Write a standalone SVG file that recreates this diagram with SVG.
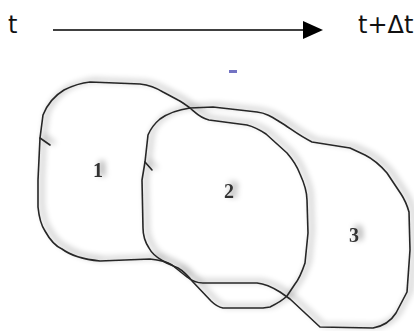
<svg xmlns="http://www.w3.org/2000/svg" width="414" height="331" viewBox="0 0 414 331">
  <style>
    .lbl { font-family: "DejaVu Sans", sans-serif; font-size: 24px; fill: #111; }
    .num { font-family: "Liberation Serif", serif; font-size: 20px; font-weight: bold; fill: #333; text-anchor: middle; }
    .outline { fill: none; stroke: #262626; stroke-width: 1.6; stroke-linejoin: round; stroke-linecap: round; }
  </style>
  <defs>
    <marker id="arrowHead" markerWidth="20" markerHeight="18" refX="1" refY="9" orient="auto" markerUnits="userSpaceOnUse">
      <path d="M0,0 L20,9 L0,18 Z" fill="#000"/>
    </marker>
    <!-- soft grey shadow that follows each hand-drawn outline -->
    <filter id="haze" x="-10%" y="-10%" width="120%" height="120%">
      <feGaussianBlur in="SourceAlpha" stdDeviation="3" result="b"/>
      <feOffset in="b" dx="4" dy="-2" result="o"/>
      <feComponentTransfer in="o" result="s">
        <feFuncA type="linear" slope="0.55"/>
      </feComponentTransfer>
      <feMerge>
        <feMergeNode in="s"/>
        <feMergeNode in="SourceGraphic"/>
      </feMerge>
    </filter>
    <filter id="soft">
      <feGaussianBlur stdDeviation="0.35"/>
    </filter>
  </defs>

  <rect width="414" height="331" fill="#fff"/>

  <!-- time axis -->
  <g id="axis">
    <text class="lbl" x="8" y="33">t</text>
    <line x1="53" y1="30" x2="304" y2="30" stroke="#000" stroke-width="1.5" marker-end="url(#arrowHead)"/>
    <text class="lbl" x="358" y="33">t+Δt</text>
  </g>

  <!-- stray pen mark -->
  <rect x="229" y="70" width="8" height="3" fill="#5a5ab8" opacity="0.85"/>

  <g id="connectors"></g>

  <g filter="url(#haze)">
    <!-- region 1 with the outer contour it shares with region 3 -->
    <g id="node1">
      <path class="outline" d="M150,259 C160,260 166,261 172,265 L187,277 C192,281 196,283 203,283 L257,283 C266,284 272,287 280,292 L290,299 L320,327 L373,328 C384,326 391,321 396,313 L407,292 L410,250 L409,212 C407,205 405,200 401,194 L387,173 C380,165 373,159 365,155 L350,148 L312,142 C298,135 290,128 280,122 C272,117 266,113 257,112 L213,107 L190,108 C186,105 182,102 178,100 L163,92 C155,87 148,85 140,84 L90,82 C80,83 72,86 64,90 C54,96 47,105 43,115 L40,138 L38,180 L38,207 C39,217 41,225 45,231 C50,240 55,246 62,249 C70,255 80,259 100,261 Z"/>
      <path class="outline" d="M40,138 L50,145"/>
      <text class="num" x="98" y="177" filter="url(#soft)">1</text>
    </g>
    <!-- region 2 -->
    <g id="node2">
      <path class="outline" d="M190,108 C196,113 200,118 209,120 L247,125 C255,127 260,130 266,134 L287,153 C293,160 297,166 300,174 C305,185 307,192 307,200 L308,233 L305,263 C302,272 299,279 295,284 L287,296 C283,300 278,303 270,307 L263,308 L223,308 C218,307 215,305 211,301 L193,282 C189,277 185,272 178,268 C172,265 168,264 163,261 C156,257 152,254 149,248 C145,242 143,236 143,228 L142,180 L145,162 L148,135 C151,128 154,124 160,119 C167,114 176,110 190,108 Z"/>
      <path class="outline" d="M145,162 L152,170"/>
      <text class="num" x="229" y="198" filter="url(#soft)">2</text>
    </g>
    <g id="node3">
      <text class="num" x="354" y="242" filter="url(#soft)">3</text>
    </g>
  </g>
</svg>
